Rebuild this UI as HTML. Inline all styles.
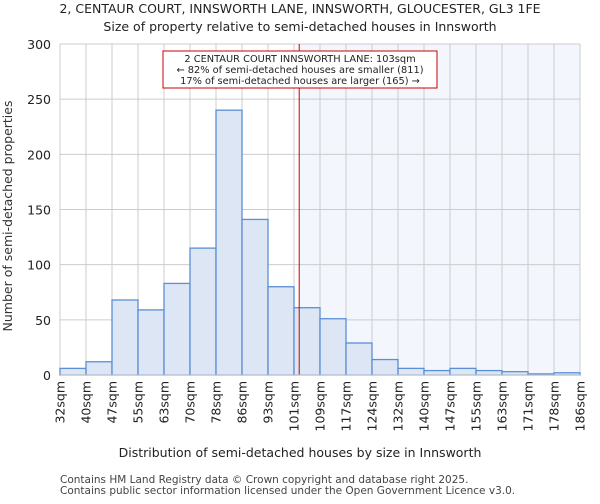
<!DOCTYPE html>
<html><head><meta charset="utf-8"><style>
body{margin:0;background:#fff;font-family:"DejaVu Sans","Liberation Sans",sans-serif}
</style></head><body>
<svg id="chart" width="600" height="500" xmlns="http://www.w3.org/2000/svg" font-family="DejaVu Sans, Liberation Sans, sans-serif">
<text x="300" y="13" text-anchor="middle" font-size="12.5" fill="#222">2, CENTAUR COURT, INNSWORTH LANE, INNSWORTH, GLOUCESTER, GL3 1FE</text>
<text x="300" y="31" text-anchor="middle" font-size="12.5" fill="#222">Size of property relative to semi-detached houses in Innsworth</text>
<g id="plot"></g>
<text x="300" y="457" text-anchor="middle" font-size="12.5" fill="#222">Distribution of semi-detached houses by size in Innsworth</text>
<text transform="translate(12,216) rotate(-90)" text-anchor="middle" font-size="12.5" fill="#333">Number of semi-detached properties</text>
<text x="60" y="483" font-size="10.5" fill="#444">Contains HM Land Registry data © Crown copyright and database right 2025.</text>
<text x="60" y="494" font-size="10.5" fill="#444">Contains public sector information licensed under the Open Government Licence v3.0.</text>
</svg>
<script>
const binLabels=["32sqm","40sqm","47sqm","55sqm","63sqm","70sqm","78sqm","86sqm","93sqm","101sqm","109sqm","117sqm","124sqm","132sqm","140sqm","147sqm","155sqm","163sqm","171sqm","178sqm","186sqm"];
const counts=[6,12,68,59,83,115,240,141,80,61,51,29,14,6,4,6,4,3,1,2];
const yTicks=[0,50,100,150,200,250,300];
const markerBin=9.2;
const NS="http://www.w3.org/2000/svg";
const L=60,R=580,T=44,B=375,yMax=300;
const bw=(R-L)/counts.length;
const xs=i=>L+i*bw;
const ys=v=>B-(B-T)*v/yMax;
const g=document.getElementById('plot');
function mk(t,a){const e=document.createElementNS(NS,t);for(const k in a)e.setAttribute(k,a[k]);g.appendChild(e);return e;}
const mx=xs(markerBin);
let e=mk('rect',{x:mx,y:T,width:R-mx,height:B-T,fill:'#f3f6fd'});


yTicks.forEach(v=>{
 let l=mk('line',{x1:L,x2:R,y1:ys(v),y2:ys(v),stroke:'#ccc'});
 
 
 let t=mk('text',{x:L-9,y:ys(v)+5,'text-anchor':'end','font-size':12.5,fill:'#222'});
 t.textContent=v;
 
 
});
binLabels.forEach((s,i)=>{
 let l=mk('line',{x1:xs(i),x2:xs(i),y1:T,y2:B,stroke:'#ccc'});
 
 
 let t=mk('text',{transform:`translate(${xs(i)+4.5},381) rotate(-90)`,'text-anchor':'end','font-size':12.5,fill:'#222'});
 t.textContent=s;
 
 
});
counts.forEach((c,i)=>{
 let r=mk('rect',{x:xs(i),y:ys(c),width:bw,height:B-ys(c),fill:'#dce6f5',stroke:'#5b8fd6','stroke-width':1.3});
 
 
});
let ml=mk('line',{x1:mx,x2:mx,y1:T,y2:B,stroke:'#cc0000','stroke-width':1});


let ab=mk('rect',{x:163,y:51,width:274,height:37,fill:'#fff',stroke:'#cc0000'});


["2 CENTAUR COURT INNSWORTH LANE: 103sqm","← 82% of semi-detached houses are smaller (811)","17% of semi-detached houses are larger (165) →"].forEach((s,i)=>{
 let t=mk('text',{x:300,y:62+i*11,'text-anchor':'middle','font-size':9.8,fill:'#222'});
 t.textContent=s;
 
 
});
let ax=mk('line',{x1:L,x2:R,y1:B,y2:B,stroke:'#ccc'});


</script>
</body></html>
